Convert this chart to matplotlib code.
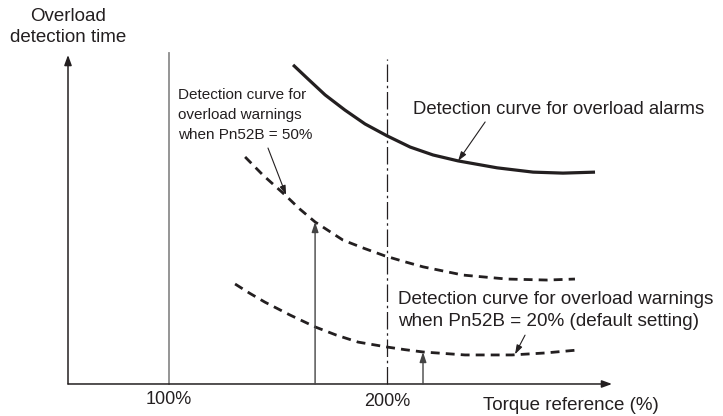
import matplotlib.pyplot as plt

plt.rcParams['font.family'] = ['Liberation Sans', 'DejaVu Sans']

INK = '#231f20'
GREY = '#8c8c8c'

# torque reference (%) vs overload detection time (arbitrary units)
alarm_torque = [156.9, 163.8, 171.6, 180.7, 189.9, 200, 210.6, 221.1, 232.6,
                250.5, 267.0, 280.7, 295.4]
alarm_time = [96.7, 92.4, 87.6, 83.0, 78.8, 75.2, 71.8, 69.4, 67.6,
              65.5, 64.2, 63.9, 64.2]

warn50_torque = [134.9, 143.1, 153.2, 160.0, 167.0, 179.8, 189.5, 199.1, 207.8, 216.5,
                 234.9, 255.0, 273.4, 286.2]
warn50_time = [68.8, 63.3, 57.3, 53.0, 49.1, 43.6, 41.1, 38.8, 37.1, 35.5,
               33.0, 31.8, 31.5, 31.8]

warn20_torque = [130.3, 137.0, 144.0, 155.5, 167.0, 176.8, 186.7, 200, 208.2, 216.5,
                 235.8, 257.3, 272.5, 287.6]
warn20_time = [30.3, 27.5, 24.8, 20.9, 17.3, 14.8, 12.7, 11.2, 10.4, 9.7,
               8.8, 8.8, 9.4, 10.3]

rated = 100
max_torque = 200
arrow50_torque = 167
arrow20_torque = 216.5

fig = plt.figure(figsize=(7.23, 4.16), dpi=100)
ax = fig.add_axes([0, 0, 1, 1])
ax.set_xlim(22.48, 354.1)
ax.set_ylim(-9.70, 116.36)
ax.axis('off')

# axes with arrow heads
head = dict(arrowstyle='-|>,head_length=0.6,head_width=0.22', color=INK, lw=1.1,
            shrinkA=0, shrinkB=0)
ax.annotate('', xy=(303.2, 0), xytext=(53.67, 0), arrowprops=head)
ax.annotate('', xy=(53.67, 99.7), xytext=(53.67, 0), arrowprops=head)

# 100 % and 200 % reference lines
ax.plot([rated, rated], [0, 100.3], color=GREY, lw=1.3)
ax.plot([max_torque, max_torque], [0, 98.5], color=INK, lw=0.9,
        linestyle=(0, (14, 3, 2, 3)))

# detection curves
ax.plot(alarm_torque, alarm_time, color=INK, lw=2.3, solid_capstyle='butt',
        solid_joinstyle='round')
ax.plot(warn50_torque, warn50_time, color=INK, lw=2.0, linestyle=(0, (3.2, 2.2)))
ax.plot(warn20_torque, warn20_time, color=INK, lw=2.0, linestyle=(0, (3.2, 2.2)))

# vertical arrows up to the warning curves
up = dict(arrowstyle='-|>,head_length=0.6,head_width=0.2', color='#444444', lw=1.0,
          shrinkA=0, shrinkB=0)
ax.annotate('', xy=(arrow50_torque, warn50_time[4]), xytext=(arrow50_torque, 0), arrowprops=up)
ax.annotate('', xy=(arrow20_torque, warn20_time[9]), xytext=(arrow20_torque, 0), arrowprops=up)

# leader arrows for the labels
lead = dict(arrowstyle='-|>,head_length=0.55,head_width=0.18', color=INK, lw=0.8,
            shrinkA=0, shrinkB=0)
ax.annotate('', xy=(232.6, 67.6), xytext=(245, 79.4), arrowprops=lead)
ax.annotate('', xy=(153.7, 57.3), xytext=(145.4, 71.5), arrowprops=lead)
ax.annotate('', xy=(258.7, 9.0), xytext=(263.3, 14.8), arrowprops=lead)

ax.text(53.7, 108.2, 'Overload\ndetection time', ha='center', va='center',
        fontsize=13.5, color=INK, linespacing=1.25)
ax.text(104.1, 81.5, 'Detection curve for\noverload warnings\nwhen Pn52B = 50%',
        ha='left', va='center', fontsize=11, color=INK, linespacing=1.54)
ax.text(211.9, 83.3, 'Detection curve for overload alarms', ha='left', va='center',
        fontsize=13.3, color=INK)
ax.text(205, 22.3, 'Detection curve for overload warnings\nwhen Pn52B = 20% (default setting)',
        ha='left', va='center', fontsize=13.6, color=INK, linespacing=1.36)
ax.text(rated, -4.85, '100%', ha='center', va='center', fontsize=13, color=INK)
ax.text(max_torque, -5.45, '200%', ha='center', va='center', fontsize=13, color=INK)
ax.text(244, -6.4, 'Torque reference (%)', ha='left', va='center', fontsize=13.5, color=INK)

fig.savefig('out.png', dpi=100)
